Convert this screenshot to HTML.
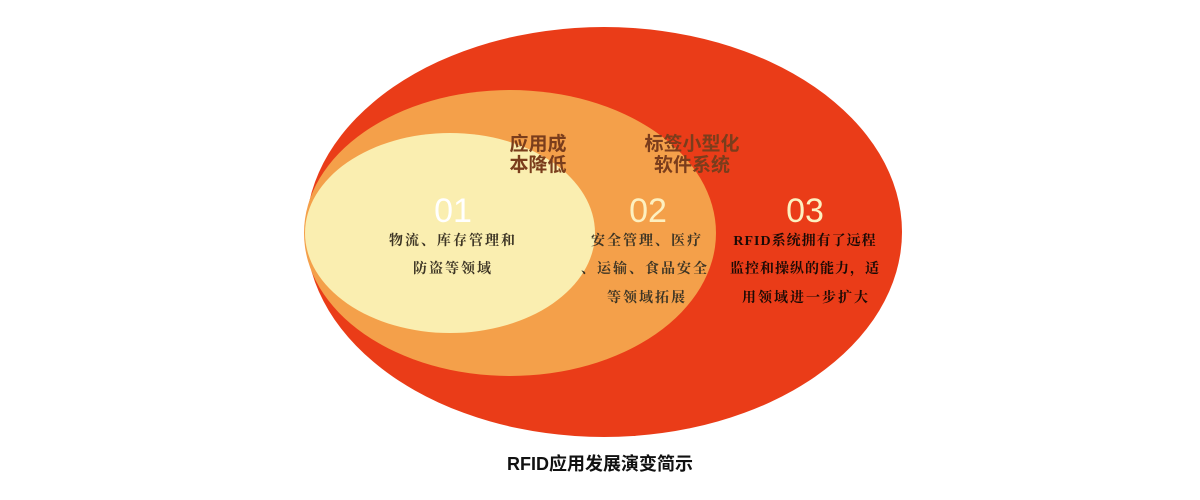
<!DOCTYPE html>
<html><head><meta charset="utf-8"><style>
html,body{margin:0;padding:0;background:#fff;width:1200px;height:500px;overflow:hidden}
svg{display:block}
.h{font-family:"Liberation Sans","Noto Sans CJK SC",sans-serif;font-size:19px;font-weight:bold;fill:#7a3d1c;text-anchor:middle}
.b{font-family:"Liberation Serif","Noto Serif CJK SC",serif;font-size:14px;letter-spacing:2px;fill:#3d3525;text-anchor:middle;font-weight:bold}
.n{font-family:"Liberation Sans Narrow","Liberation Sans",sans-serif;font-size:34px;fill:#fff;text-anchor:middle}
</style></head><body>
<svg width="1200" height="500" viewBox="0 0 1200 500">
<ellipse cx="604" cy="232" rx="298" ry="205" fill="#ea3c18"/>
<ellipse cx="510" cy="233" rx="206" ry="143" fill="#f4a04a"/>
<ellipse cx="450" cy="233" rx="145" ry="100" fill="#faeeb0"/>
<text class="h" x="538" y="150">应用成</text>
<text class="h" x="538" y="171">本降低</text>
<text class="h" x="692" y="150">标签小型化</text>
<text class="h" x="692" y="171">软件系统</text>
<text class="n" x="453" y="222">01</text>
<text class="n" x="648" y="222" style="fill:#fdf0c0">02</text>
<text class="n" x="805" y="222" style="fill:#fdf0c0">03</text>
<text class="b" x="453" y="245">物流、库存管理和</text>
<text class="b" x="453" y="273">防盗等领域</text>
<text class="b" x="647" y="245">安全管理、医疗</text>
<text class="b" x="645" y="273">、运输、食品安全</text>
<text class="b" x="647" y="302">等领域拓展</text>
<text class="b" x="805" y="245" style="fill:#1a0a05;letter-spacing:1px">RFID系统拥有了远程</text>
<text class="b" x="805" y="273" style="fill:#1a0a05;letter-spacing:1px">监控和操纵的能力，适</text>
<text class="b" x="806" y="302" style="fill:#1a0a05">用领域进一步扩大</text>
<text x="600" y="470" text-anchor="middle" style="font-family:'Liberation Sans','Noto Sans CJK SC',sans-serif;font-size:18px;font-weight:bold;fill:#111">RFID应用发展演变简示</text>
</svg>
</body></html>
